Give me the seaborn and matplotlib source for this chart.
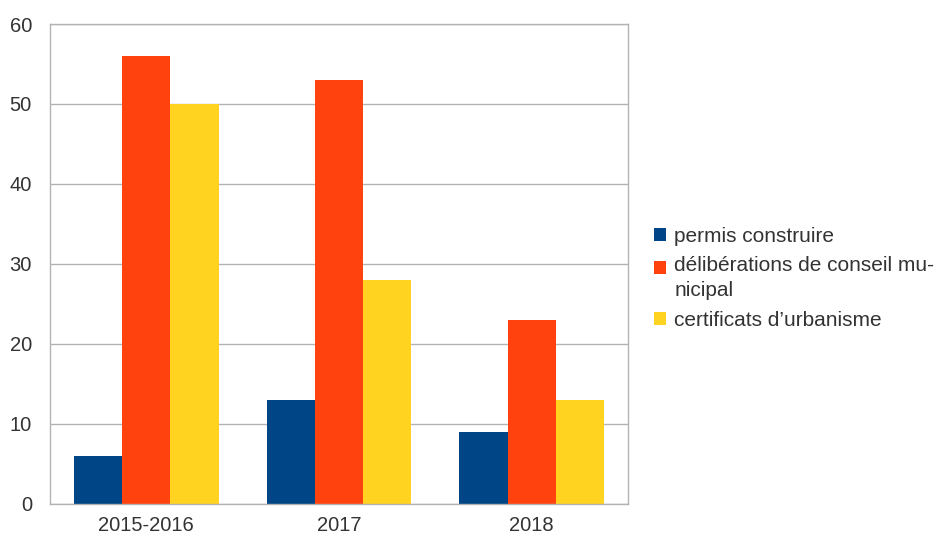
import matplotlib
matplotlib.use("Agg")
import matplotlib.pyplot as plt
import seaborn as sns
import pandas as pd
from matplotlib.patches import Patch, Rectangle
from matplotlib.legend_handler import HandlerPatch

categories = ["2015-2016", "2017", "2018"]
series_names = ["permis construire", "délibérations de conseil mu-\nnicipal", "certificats d’urbanisme"]
permis = [6, 13, 9]
deliberations = [56, 53, 23]
certificats = [50, 28, 13]
colors = ["#004586", "#ff420e", "#ffd320"]

rows = []
for name, vals in zip(series_names, [permis, deliberations, certificats]):
    for c, v in zip(categories, vals):
        rows.append({"cat": c, "serie": name, "val": v})
df = pd.DataFrame(rows)

sns.set_theme(style="white")
plt.rcParams['font.family'] = ['Liberation Sans', 'DejaVu Sans']

fig = plt.figure(figsize=(9.38, 5.37), dpi=100)
ax = fig.add_axes([50/938, 1-503.5/537, (628-50)/938, (503.5-24)/537])

sns.barplot(data=df, x="cat", y="val", hue="serie", palette=colors,
            width=0.75, saturation=1, ax=ax, legend=False, linewidth=0, errorbar=None)

ax.set_xlim(-0.5, 2.5)
ax.set_ylim(0, 60)
ax.set_yticks(range(0, 61, 10))
ax.set_xlabel("")
ax.set_ylabel("")
grid_c = "#b3b3b3"
ax.yaxis.grid(True, color=grid_c, linewidth=1)
ax.set_axisbelow(True)
for s in ax.spines.values():
    s.set_color(grid_c)
    s.set_linewidth(1)

ax.tick_params(axis="x", which="major", length=0, pad=9, labelsize=14.5, labelcolor="#333333")
ax.set_xticks([-0.5, 0.5, 1.5, 2.5], minor=True)
ax.tick_params(axis="x", which="minor", length=10, color=grid_c, width=1)
ax.tick_params(axis="y", length=9, color=grid_c, width=1, pad=4, labelsize=14.5, labelcolor="#333333")


def shifted_rect(legend, orig_handle, xdescent, ydescent, width, height, fontsize):
    return Rectangle((-xdescent, -ydescent + 8.0), width, height)


handles = [Patch(facecolor=c, edgecolor="none") for c in colors]
leg = fig.legend(handles, series_names, loc="upper left", bbox_to_anchor=(654/938, 1-227/537),
                 frameon=False, fontsize=15, handlelength=0.58, handleheight=0.58,
                 handletextpad=0.4, labelspacing=0.5, borderpad=0, borderaxespad=0,
                 labelcolor="#333333",
                 handler_map={handles[1]: HandlerPatch(patch_func=shifted_rect)})
for t in leg.get_texts():
    t.set_linespacing(1.4)

fig.savefig("out.png", dpi=100)
